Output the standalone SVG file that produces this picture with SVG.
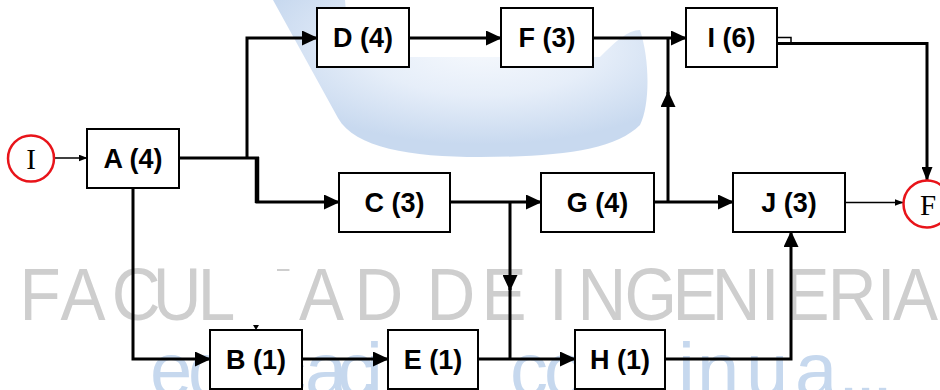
<svg xmlns="http://www.w3.org/2000/svg" width="940" height="390" viewBox="0 0 940 390">
<defs>
<radialGradient id="blueG" cx="0.56" cy="0.3" r="0.62">
<stop offset="0" stop-color="#f6f9fd"/>
<stop offset="0.5" stop-color="#e6eef9"/>
<stop offset="1" stop-color="#c8d9ef"/>
</radialGradient>
<marker id="ah" markerUnits="userSpaceOnUse" viewBox="0 0 16 15" markerWidth="16" markerHeight="15" refX="15" refY="7.5" orient="auto"><path d="M0,0 L16,7.5 L0,15 z" fill="#000"/></marker>
<marker id="am" markerUnits="userSpaceOnUse" viewBox="0 0 14 11" markerWidth="14" markerHeight="11" refX="13" refY="5.5" orient="auto"><path d="M0,0 L14,5.5 L0,11 z" fill="#000"/></marker>
<marker id="as" markerUnits="userSpaceOnUse" viewBox="0 0 9 7" markerWidth="9" markerHeight="7" refX="8.5" refY="3.5" orient="auto"><path d="M0,0 L9,3.5 L0,7 z" fill="#000"/></marker>
</defs>
<style>
.box{fill:#fff;stroke:#000;stroke-width:2}
.lbl{font-family:"Liberation Sans",Arial,sans-serif;font-weight:bold;font-size:27px;text-anchor:middle;fill:#000}
.ev{fill:#fff;stroke:#e8141a;stroke-width:2.5}
.evl{font-family:"Liberation Serif","Times New Roman",serif;font-size:29px;text-anchor:middle;fill:#000}
.c{fill:none;stroke:#000;stroke-width:3}
.thin{fill:none;stroke:#000;stroke-width:1.6}
.wm{font-family:"Liberation Sans",Arial,sans-serif;font-size:75px;fill:#cecece}
.wm2{font-family:"Liberation Sans",Arial,sans-serif;font-size:76px;fill:#c6d8ee}
</style>
<rect x="0" y="0" width="940" height="390" fill="#fff"/>
<g id="background">
<path d="M273,0 L345,0 L350,57 L600,57 C615,42 628,30 640,30 C650,60 650,105 640,125 C615,150 560,157 480,157 C410,157 355,148 338,118 Z" fill="url(#blueG)"/>
<text class="wm" transform="scale(0.9,1)" y="320" x="21.8 67.2 124.2 169.6 219.6 277.4 332.2 394 440 474 535.1 580 609.9 641.8 694 747.3 790.7 845.4 871.8 919.6 974.3 992.2">FACULTAD DE INGENIERIA</text>
<rect x="240" y="262" width="37" height="62" fill="#fff"/>
<rect x="276" y="271" width="18" height="53" fill="#fff"/>
<text class="wm2" y="396" x="150 188 230 268 305 337 366 384 426 468 510 544 590 632 678 697 746 795 838 855 872">educación continua...</text>
</g>
<g id="connectors">
<path class="thin" d="M54,158 H87" marker-end="url(#as)"/>
<path class="c" d="M179,158 H259"/>
<path class="c" d="M247,158 V38 H317" marker-end="url(#ah)"/>
<path class="c" d="M257,160 V202 H339" marker-end="url(#ah)"/>
<line x1="257" y1="157" x2="257" y2="203" stroke="#000" stroke-width="4.5"/>
<path class="c" d="M133,188 V359 H210" marker-end="url(#ah)"/>
<path class="c" d="M409,38 H501" marker-end="url(#ah)"/>
<path class="c" d="M593,38 H686" marker-end="url(#ah)"/>
<path class="c" d="M450,202 H541" marker-end="url(#ah)"/>
<path class="c" d="M510,202 V290" marker-end="url(#ah)"/>
<path class="c" d="M510,288 V359"/>
<path class="c" d="M302,359 H388" marker-end="url(#ah)"/>
<path class="c" d="M478,359 H575" marker-end="url(#ah)"/>
<path class="c" d="M654,202 H733" marker-end="url(#ah)"/>
<path class="c" d="M668,202 V92" marker-end="url(#ah)"/>
<path class="c" d="M668,94 V37"/>
<path class="c" d="M665,359 H791 V232" marker-end="url(#ah)"/>
<path class="c" d="M777,43.5 H927 V180" marker-end="url(#am)"/>
<rect x="777" y="37.5" width="14" height="6" fill="none" stroke="#000" stroke-width="1.5"/>
<path class="thin" d="M845,202.5 H903" marker-end="url(#as)"/>
<path d="M253,325 L259,325 L256,330 z" fill="#000"/>
</g>
<g id="node-I"><circle class="ev" cx="31" cy="158.5" r="23"/><text class="evl" x="31" y="168.5">I</text></g>
<g id="node-F-end"><circle class="ev" cx="927" cy="204" r="23.5"/><text class="evl" x="928" y="214.5">F</text></g>
<g id="node-A"><rect class="box" x="87" y="129" width="92" height="59"/><text class="lbl" x="133" y="168">A (4)</text></g>
<g id="node-D"><rect class="box" x="317" y="8" width="92" height="59"/><text class="lbl" x="363" y="47">D (4)</text></g>
<g id="node-F"><rect class="box" x="501" y="8" width="92" height="59"/><text class="lbl" x="547" y="47">F (3)</text></g>
<g id="node-I6"><rect class="box" x="686" y="8" width="91" height="59"/><text class="lbl" x="731.5" y="47">I (6)</text></g>
<g id="node-C"><rect class="box" x="339" y="173" width="111" height="59"/><text class="lbl" x="394.5" y="212">C (3)</text></g>
<g id="node-G"><rect class="box" x="541" y="173" width="113" height="59"/><text class="lbl" x="597.5" y="212">G (4)</text></g>
<g id="node-J"><rect class="box" x="733" y="173" width="112" height="59"/><text class="lbl" x="789" y="212">J (3)</text></g>
<g id="node-B"><rect class="box" x="210" y="330" width="92" height="59"/><text class="lbl" x="256" y="369">B (1)</text></g>
<g id="node-E"><rect class="box" x="388" y="330" width="90" height="59"/><text class="lbl" x="433" y="369">E (1)</text></g>
<g id="node-H"><rect class="box" x="575" y="330" width="90" height="59"/><text class="lbl" x="620" y="369">H (1)</text></g>
</svg>
